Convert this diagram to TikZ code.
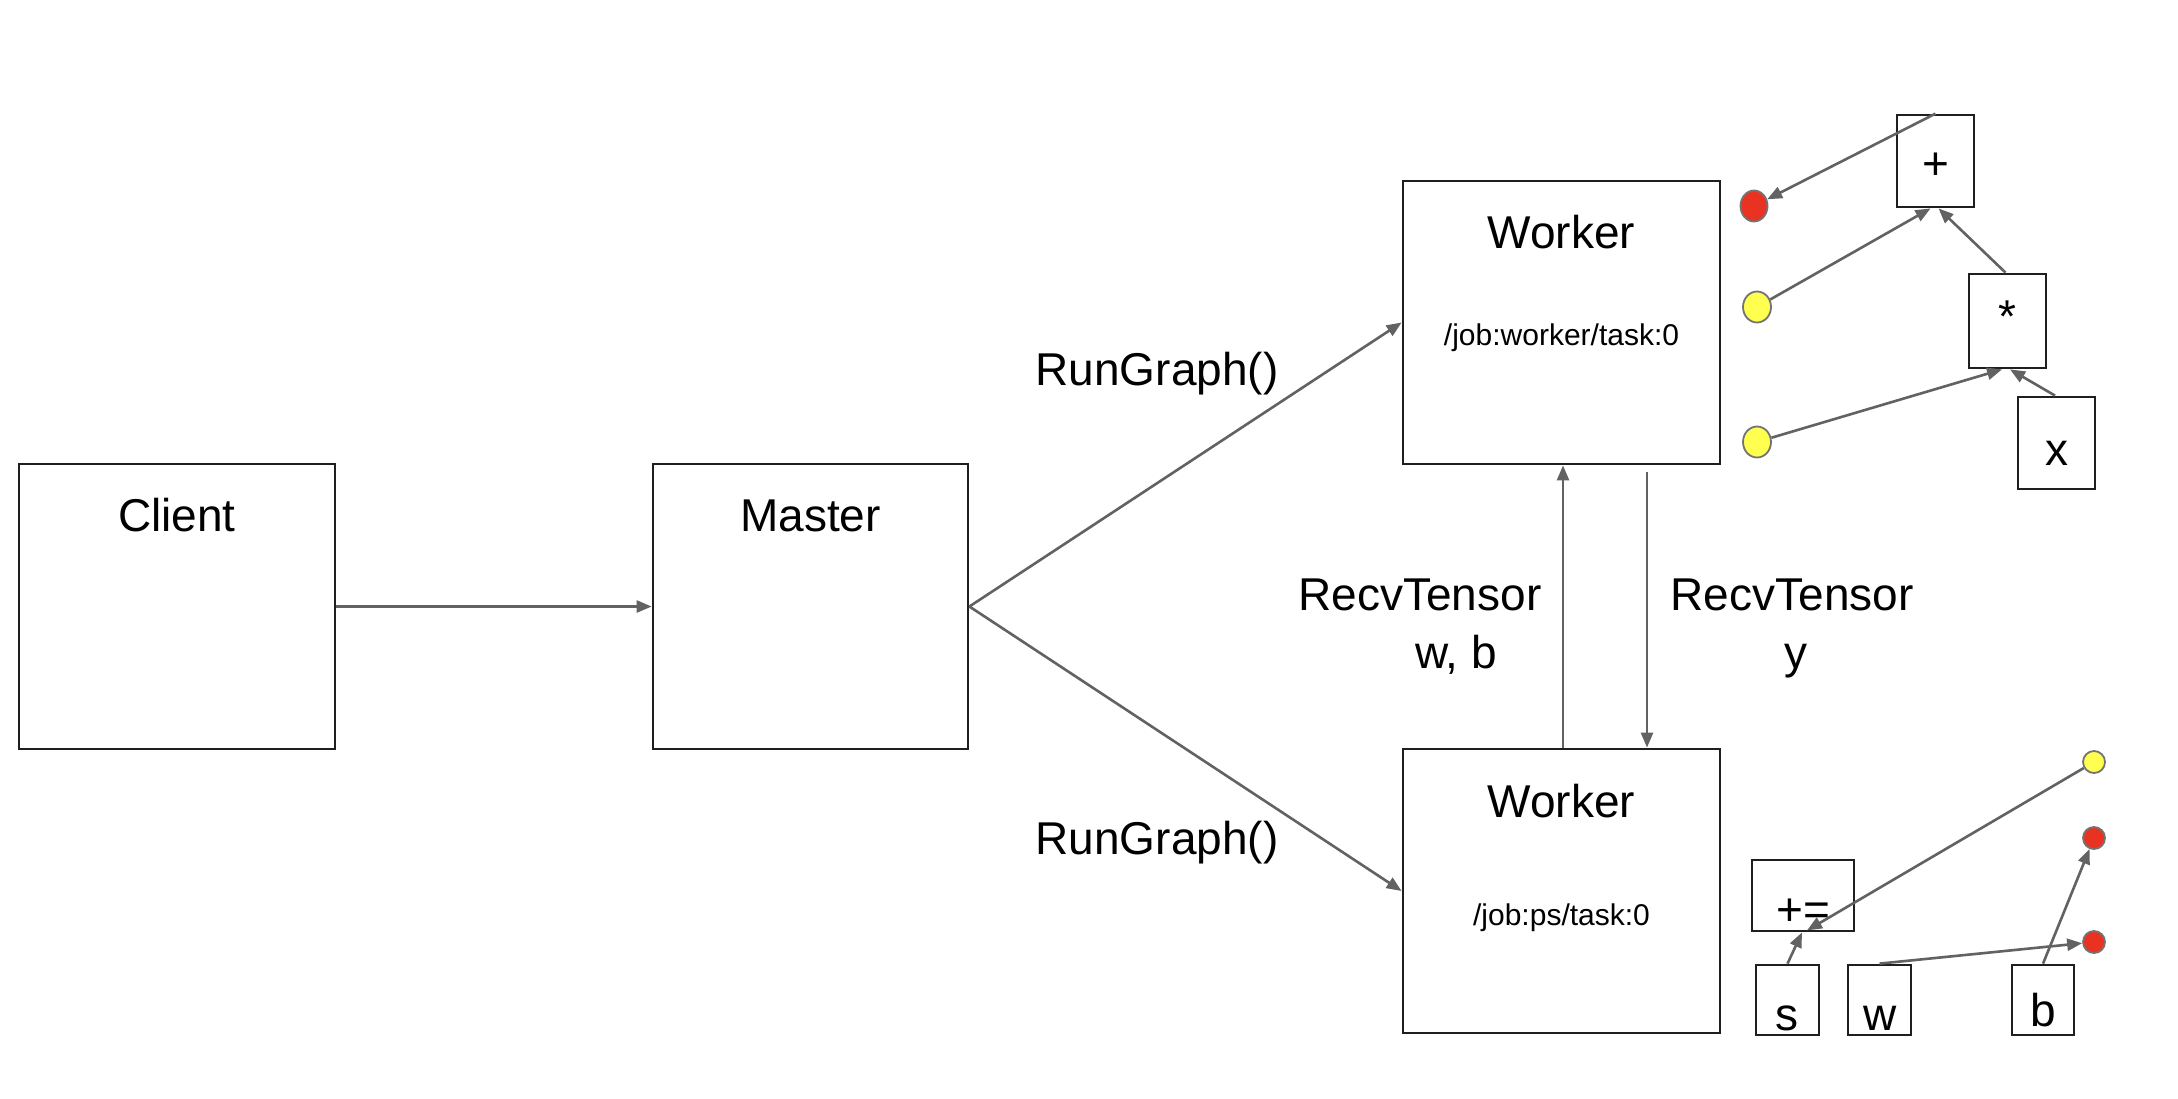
\documentclass[tikz,border=0pt]{standalone}
\usepackage{fontspec}
\setmainfont{Liberation Sans}
\usetikzlibrary{arrows.meta,shapes.geometric}
\definecolor{tfred}{HTML}{EA3223}
\definecolor{tfyel}{HTML}{FFFF4F}
\definecolor{lineg}{HTML}{626262}
\definecolor{boxc}{HTML}{1F1F1F}
\begin{document}
\begin{tikzpicture}[x=0.5pt,y=-0.5pt,
  box/.style={draw=boxc,line width=1.4pt,fill=white,inner sep=0pt},
  big/.style={font=\fontsize{23}{27}\selectfont,inner sep=0pt},
  small/.style={font=\fontsize{15}{18}\selectfont,inner sep=0pt},
  arr/.style={draw=lineg,line width=1.3pt,-{Triangle[length=7.5pt,width=6pt]}},
  redc/.style={ellipse,draw=black!55,line width=0.9pt,fill=tfred,inner sep=0pt},
  yelc/.style={ellipse,draw=black!55,line width=0.9pt,fill=tfyel,inner sep=0pt}]
\fill[white] (0,0) rectangle (2178,1098);
\useasboundingbox (0,0) rectangle (2178,1098);

% main boxes
\node[box,minimum width=158pt,minimum height=142.5pt] (client) at (177,606.5) {};
\node[box,minimum width=157.5pt,minimum height=142.5pt] (master) at (810.5,606.5) {};
\node[box,minimum width=158.5pt,minimum height=141.5pt] (wtop) at (1561.5,322.5) {};
\node[box,minimum width=158.5pt,minimum height=142pt] (wbot) at (1561.5,891) {};

\node[big,anchor=base] (tclient) at (177,531) {Client};
\node[big,anchor=base] (tmaster) at (810.5,531) {Master};
\node[big,anchor=base] (twtop) at (1561.5,248) {Worker};
\node[small,anchor=base] (jwtop) at (1561.5,345) {/job:worker/task:0};
\node[big,anchor=base] (twbot) at (1561.5,817) {Worker};
\node[small,anchor=base] (jwbot) at (1561.5,925) {/job:ps/task:0};

\node[big,anchor=base] (rg1) at (1157,385) {RunGraph()};
\node[big,anchor=base] (rg2) at (1157,854) {RunGraph()};
\node[big,anchor=base] (rtl) at (1420,610) {RecvTensor};
\node[big,anchor=base] (rtlwb) at (1456,668) {w, b};
\node[big,anchor=base] (rtr) at (1792,610) {RecvTensor};
\node[big,anchor=base] (rtry) at (1796,668) {y};

% top-right graph
\node[box,minimum width=38.5pt,minimum height=46pt] (plus) at (1935.5,161) {};
\node[box,minimum width=38.5pt,minimum height=47pt] (star) at (2007.5,321) {};
\node[box,minimum width=38.5pt,minimum height=46pt] (xbox) at (2056.5,443) {};
\node[big] (tplus) at (1936,166) {+};
\node[big] (tstar) at (2007,317) {*};
\node[big] (tx) at (2057,453) {x};
\node[redc,minimum width=13.5pt,minimum height=15.5pt] (r1) at (1754,206) {};
\node[yelc,minimum width=14pt,minimum height=15.5pt] (y1) at (1757,307) {};
\node[yelc,minimum width=14pt,minimum height=15.5pt] (y2) at (1757,442) {};

% bottom-right graph
\node[box,minimum width=51pt,minimum height=35.5pt] (pluseq) at (1803,895.5) {};
\node[box,minimum width=31.5pt,minimum height=35pt] (sbox) at (1787.5,1000) {};
\node[box,minimum width=31.5pt,minimum height=35pt] (wbox) at (1879.5,1000) {};
\node[box,minimum width=31pt,minimum height=35pt] (bbox) at (2043,1000) {};
\node[big] (tpluseq) at (1803,912) {+=};
\node[big] (ts) at (1787,1018) {s};
\node[big] (tw) at (1880,1018) {w};
\node[big] (tb) at (2043,1010) {b};
\node[yelc,minimum size=11pt] (y3) at (2094,762) {};
\node[redc,minimum size=11pt] (r2) at (2094,838) {};
\node[redc,minimum size=11pt] (r3) at (2094,942) {};

% connectors
\draw[arr] (client.east) -- (master.west);
\draw[arr] (master.east) -- (wtop.west);
\draw[arr] (master.east) -- (wbot.west);
\coordinate (upx) at (1563,0);
\coordinate (dnx) at (1647,472);
\draw[arr] (wbot.north -| upx) -- (wtop.south -| upx);
\draw[arr] (dnx) -- (wbot.north -| dnx);

\draw[arr] (plus.north) -- (r1);
\draw[arr] (y1) -- ([xshift=-2.5pt]plus.south);
\draw[arr] ([xshift=-1pt]star.north) -- ([xshift=1.5pt]plus.south);
\draw[arr] (y2) -- ([xshift=-2.75pt]star.south);
\draw[arr] ([xshift=-0.75pt]xbox.north) -- ([xshift=1.25pt]star.south);

\draw[arr] (y3) -- ([xshift=2pt,yshift=1pt]pluseq.south);
\draw[arr] (sbox.north) -- ([xshift=-0.5pt]pluseq.south);
\draw[arr] (wbox.north) -- (r3);
\draw[arr] (bbox.north) -- (r2);
\end{tikzpicture}
\end{document}
